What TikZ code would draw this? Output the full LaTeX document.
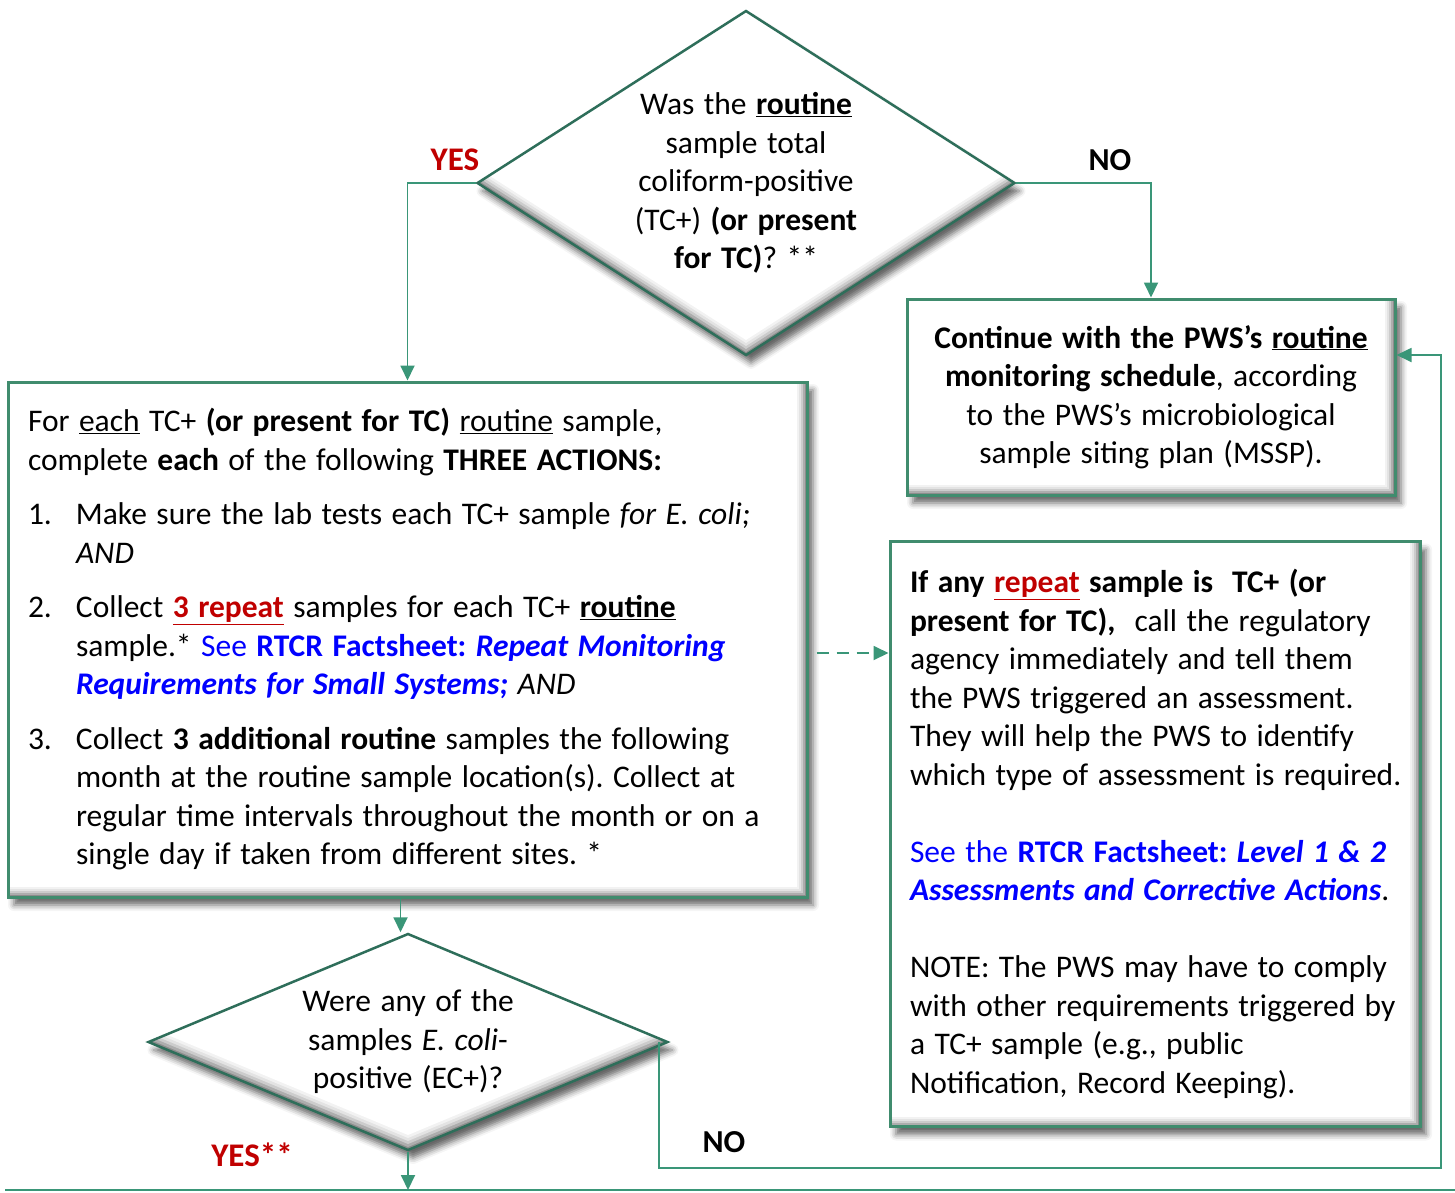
\documentclass[tikz,border=0pt]{standalone}
\usepackage{fontspec}
\setmainfont{Carlito}
\usetikzlibrary{shapes.geometric, arrows.meta, shadows.blur, positioning}

\definecolor{flowgreen}{RGB}{58,150,120}
\definecolor{edgegreen}{RGB}{64,140,110}
\definecolor{diagreen}{RGB}{46,110,90}
\definecolor{yesred}{RGB}{192,0,0}
\definecolor{linkblue}{RGB}{0,0,255}

\newcommand{\itm}[1]{\par\hangindent=48pt\hangafter=1\noindent\makebox[48pt][l]{#1}}
\newcommand{\wordspace}{\frenchspacing\spaceskip=0.3em plus 0.05em minus 0.03em\xspaceskip=0.3em\relax}
\newcommand{\flowfont}{\fontsize{31.5}{38.5}\selectfont\wordspace}

\begin{document}
\begin{tikzpicture}[
  x=1pt, y=-1pt,
  every node/.style={font=\flowfont},
  box/.style={draw=edgegreen, line width=3pt, fill=white, inner sep=0pt,
    blur shadow={shadow xshift=6pt, shadow yshift=-8pt, shadow blur radius=6pt, shadow opacity=60},
    path picture={
      \fill[black!45] (path picture bounding box.south west) rectangle (path picture bounding box.north east);
      \foreach \d/\c in {2/32,4/20,6/11,8/5,10/0}
        \fill[black!\c] ([xshift=-\d pt, yshift=\d pt]path picture bounding box.south west)
          rectangle ([xshift=-\d pt, yshift=\d pt]path picture bounding box.north east);
    }},
  decision/.style={diamond, draw=diagreen, line width=2.5pt, fill=white, inner sep=0pt, align=center,
    blur shadow={shadow xshift=5pt, shadow yshift=-8pt, shadow blur radius=6pt, shadow opacity=60},
    path picture={
      \fill[black!45] (path picture bounding box.south west) rectangle (path picture bounding box.north east);
      \foreach \d/\c in {3/32,6/20,9/11,12/5,15/0}
        \fill[black!\c] ([yshift=\d pt]path picture bounding box.north) -- ([yshift=\d pt]path picture bounding box.east)
          -- ([yshift=\d pt]path picture bounding box.south) -- ([yshift=\d pt]path picture bounding box.west) -- cycle;
    }},
  flow/.style={draw=flowgreen, line width=1.8pt, -{Triangle[length=15pt, width=14pt]}},
  yeslabel/.style={text=yesred, font=\fontsize{33}{36}\selectfont\bfseries},
  nolabel/.style={font=\fontsize{32}{36}\selectfont\bfseries}
]
\useasboundingbox (0,0) rectangle (1455,1192);

% question: routine sample
\node[decision, minimum width=538pt, minimum height=345pt, aspect=1.56] (dia1) at (746,183)
  {Was the \textbf{\underline{routine}}\\ sample total\\ coliform-positive\\
   (TC+) \textbf{(or present}\\ \textbf{for TC)}? **};

% keep going
\node[box, minimum width=488pt, minimum height=196pt, align=center] (contbox) at (1151,397)
  {\textbf{Continue with the PWS’s \underline{routine}}\\
   \textbf{monitoring schedule}, according\\
   to the PWS’s microbiological\\
   sample siting plan (MSSP).};

% three actions
\node[box, minimum width=799pt, minimum height=515pt, text width=759pt, align=left] (leftbox) at (407.5,639.5)
  {\wordspace
   For \underline{each} TC+ \textbf{(or present for TC)} \underline{routine} sample,\\
   complete \textbf{each} of the following \textbf{THREE ACTIONS:}\par\vskip16pt
   \itm{1.}Make sure the lab tests each TC+ sample \textit{for E. coli;}\newline
   \textit{AND}\par\vskip16pt
   \itm{2.}Collect \textcolor{yesred}{\textbf{\underline{3 repeat}}} samples for each TC+ \textbf{\underline{routine}}\newline
   sample.* \textcolor{linkblue}{See \textbf{RTCR Factsheet: \textit{Repeat Monitoring}}}\newline
   \textcolor{linkblue}{\textbf{\textit{Requirements for Small Systems;}}} \textit{AND}\par\vskip16pt
   \itm{3.}Collect \textbf{3 additional routine} samples the following\newline
   month at the routine sample location(s). Collect at\newline
   regular time intervals throughout the month or on a\newline
   single day if taken from different sites. *\par};

% repeat samples
\node[box, minimum width=530pt, minimum height=585pt, text width=500pt, align=left] (rightbox) at (1155,834)
  {\wordspace\hyphenpenalty=10000\leftskip=5pt\rightskip=-5pt plus 2em\relax
   \textbf{If any \textcolor{yesred}{\underline{repeat}} sample is\ \ TC+ (or}\\
   \textbf{present for TC),}\ \ call the regulatory\\
   agency immediately and tell them\\
   the PWS triggered an assessment.\\
   They will help the PWS to identify\\
   which type of assessment is required.\\[38.5pt]
   \textcolor{linkblue}{See the \textbf{RTCR Factsheet: \textit{Level 1 \& 2}}}\\
   \textcolor{linkblue}{\textbf{\textit{Assessments and Corrective Actions}}}.\\[38.5pt]
   NOTE: The PWS may have to comply\\
   with other requirements triggered by\\
   a TC+ sample (e.g., public\\
   Notification, Record Keeping).\par};

% question: E. coli
\node[decision, minimum width=520pt, minimum height=217pt, aspect=2.4] (dia2) at (408,1042)
  {Were any of the\\ samples \textit{E. coli}-\\ positive (EC+)?};

% next step (cut off)
\coordinate (nextL) at (5,1190);
\coordinate (nextR) at (1455,1190);
\draw[draw=flowgreen, line width=1.5pt] (nextL) -- (nextR);

% connectors
\draw[flow] (dia1.west) -| (leftbox.north);
\draw[flow] (dia1.east) -| (contbox.north);
\coordinate (downstart) at ([xshift=-7pt]leftbox.south);
\draw[flow] (downstart) -- (downstart |- dia2.north);
\draw[flow] (dia2.south) -- (dia2.south |- nextL);
\coordinate (dashstart) at ([xshift=8pt, yshift=-13.5pt]leftbox.east);
\draw[flow, dashed, dash pattern=on 12pt off 8pt] (dashstart) -- (dashstart -| rightbox.west);
\coordinate (loopstart) at ([xshift=-10pt]dia2.east);
\coordinate (loopcorner) at (1441,1168);
\coordinate (loopend) at ([yshift=42pt]contbox.east);
\draw[flow] (loopstart) |- (loopcorner) |- (loopend);

% labels
\node[yeslabel] (yes1) at (455,160) {YES};
\node[nolabel] (no1) at (1110,160) {NO};
\node[yeslabel] (yes2) at (252,1155) {YES**};
\node[nolabel] (no2) at (724,1142) {NO};
\end{tikzpicture}
\end{document}
